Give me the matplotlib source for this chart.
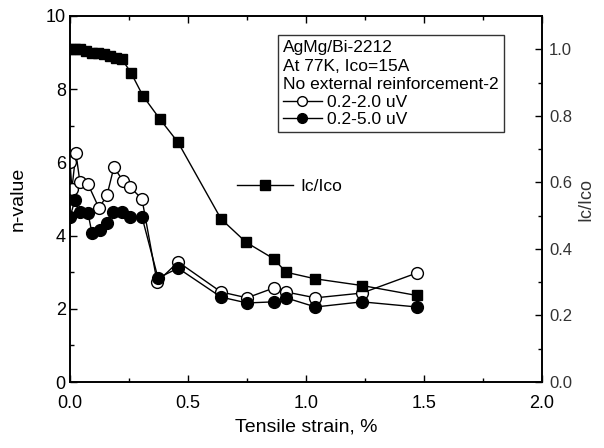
"""n-value and Ic/Ico versus tensile strain for AgMg/Bi-2212 tape."""

import matplotlib
matplotlib.use("Agg")
import matplotlib.pyplot as plt
from matplotlib.lines import Line2D

plt.rcParams["font.family"] = ["Liberation Sans", "DejaVu Sans"]

# n-value, criterion 0.2-2.0 uV (open circles)
strain_open = [0.0, 0.008, 0.025, 0.042, 0.076, 0.123, 0.157, 0.186, 0.225, 0.254,
               0.305, 0.369, 0.458, 0.64, 0.75, 0.864, 0.915, 1.04, 1.237, 1.47]
n_open = [6.01, 5.27, 6.26, 5.46, 5.41, 4.75, 5.11, 5.87, 5.49, 5.33,
          5.0, 2.73, 3.28, 2.46, 2.30, 2.57, 2.46, 2.30, 2.43, 2.98]

# n-value, criterion 0.2-5.0 uV (filled circles)
strain_fill = [0.0, 0.021, 0.042, 0.076, 0.093, 0.127, 0.157, 0.182, 0.22, 0.254,
               0.305, 0.373, 0.458, 0.64, 0.75, 0.864, 0.915, 1.04, 1.237, 1.47]
n_fill = [4.51, 4.97, 4.64, 4.62, 4.07, 4.15, 4.34, 4.64, 4.64, 4.51,
          4.51, 2.84, 3.11, 2.32, 2.16, 2.19, 2.30, 2.05, 2.19, 2.05]

# normalised critical current (squares, right axis)
strain_ic = [0.0, 0.021, 0.042, 0.068, 0.093, 0.119, 0.144, 0.169, 0.195, 0.22,
             0.258, 0.309, 0.381, 0.458, 0.64, 0.746, 0.864, 0.915, 1.04, 1.237, 1.47]
ic_ratio = [1.0, 1.0, 1.0, 0.995, 0.99, 0.99, 0.985, 0.98, 0.975, 0.97,
            0.93, 0.86, 0.79, 0.72, 0.49, 0.42, 0.37, 0.33, 0.31, 0.29, 0.26]

x_ticks = [0.0, 0.5, 1.0, 1.5, 2.0]
n_ticks = [0, 2, 4, 6, 8, 10]
ic_ticks = [0.0, 0.2, 0.4, 0.6, 0.8, 1.0]

fig = plt.figure(figsize=(6.04, 4.48), dpi=100)
ax = fig.add_axes([0.1159, 0.1473, 0.7815, 0.8170])
ax2 = ax.twinx()

ax.plot(strain_open, n_open, "-o", color="black", lw=1.0, ms=8.5,
        mfc="white", mec="black", mew=1.0, zorder=3)
ax.plot(strain_fill, n_fill, "-o", color="black", lw=1.0, ms=8.5,
        mfc="black", mec="black", zorder=4)
ax2.plot(strain_ic, ic_ratio, "-s", color="black", lw=1.0, ms=7,
         mfc="black", mec="black")

ax.set_xlim(0, 2.0)
ax.set_ylim(0, 10)
ax2.set_ylim(0, 1.1)

ax.set_xticks(x_ticks)
ax.set_xticklabels([f"{v:.1f}" for v in x_ticks])
ax.set_xticks([0.25, 0.75, 1.25, 1.75], minor=True)
ax.set_yticks(n_ticks)
ax.set_yticks([1, 3, 5, 7, 9], minor=True)
ax2.set_yticks(ic_ticks)
ax2.set_yticklabels([f"{v:.1f}" for v in ic_ticks])
ax2.set_yticks([0.1, 0.3, 0.5, 0.7, 0.9], minor=True)

ax.tick_params(axis="both", which="major", direction="in", length=5, width=1,
               labelsize=13, top=True)
ax.tick_params(axis="both", which="minor", direction="in", length=3, width=1, top=True)
ax.tick_params(axis="x", pad=9)
ax.tick_params(axis="y", pad=3)
ax2.tick_params(axis="y", which="major", direction="in", length=5, width=1,
                labelsize=12, labelcolor="#333333", pad=5)
ax2.tick_params(axis="y", which="minor", direction="in", length=3, width=1)

for spine in list(ax.spines.values()) + list(ax2.spines.values()):
    spine.set_linewidth(1.2)

ax.set_xlabel("Tensile strain, %", fontsize=14, labelpad=5)
ax.set_ylabel("n-value", fontsize=14, labelpad=14)
ax2.set_ylabel("Ic/Ico", fontsize=13, color="#333333", labelpad=4)

open_handle = Line2D([], [], color="black", lw=1.0, marker="o", ms=7,
                     mfc="white", mec="black")
fill_handle = Line2D([], [], color="black", lw=1.0, marker="o", ms=7,
                     mfc="black", mec="black")
leg = ax.legend([open_handle, fill_handle], ["0.2-2.0 uV", "0.2-5.0 uV"],
                title="AgMg/Bi-2212\nAt 77K, Ico=15A\nNo external reinforcement-2",
                title_fontsize=12.5, fontsize=12.5, alignment="left",
                loc="upper left", bbox_to_anchor=(0.441, 0.948), borderaxespad=0,
                frameon=True, fancybox=False, edgecolor="black",
                handlelength=2.2, handletextpad=0.3, labelspacing=0.12,
                borderpad=0.3)
leg.get_frame().set_linewidth(1.0)
leg.get_title().set_linespacing(1.3)

sq_handle = Line2D([], [], color="black", lw=1.0, marker="s", ms=7, mfc="black")
ax2.legend([sq_handle], ["Ic/Ico"], loc="center left",
           bbox_to_anchor=(0.34, 0.533), borderaxespad=0, frameon=False,
           fontsize=12.5, handlelength=3.2, handletextpad=0.4)

fig.savefig("out.png", dpi=100)
